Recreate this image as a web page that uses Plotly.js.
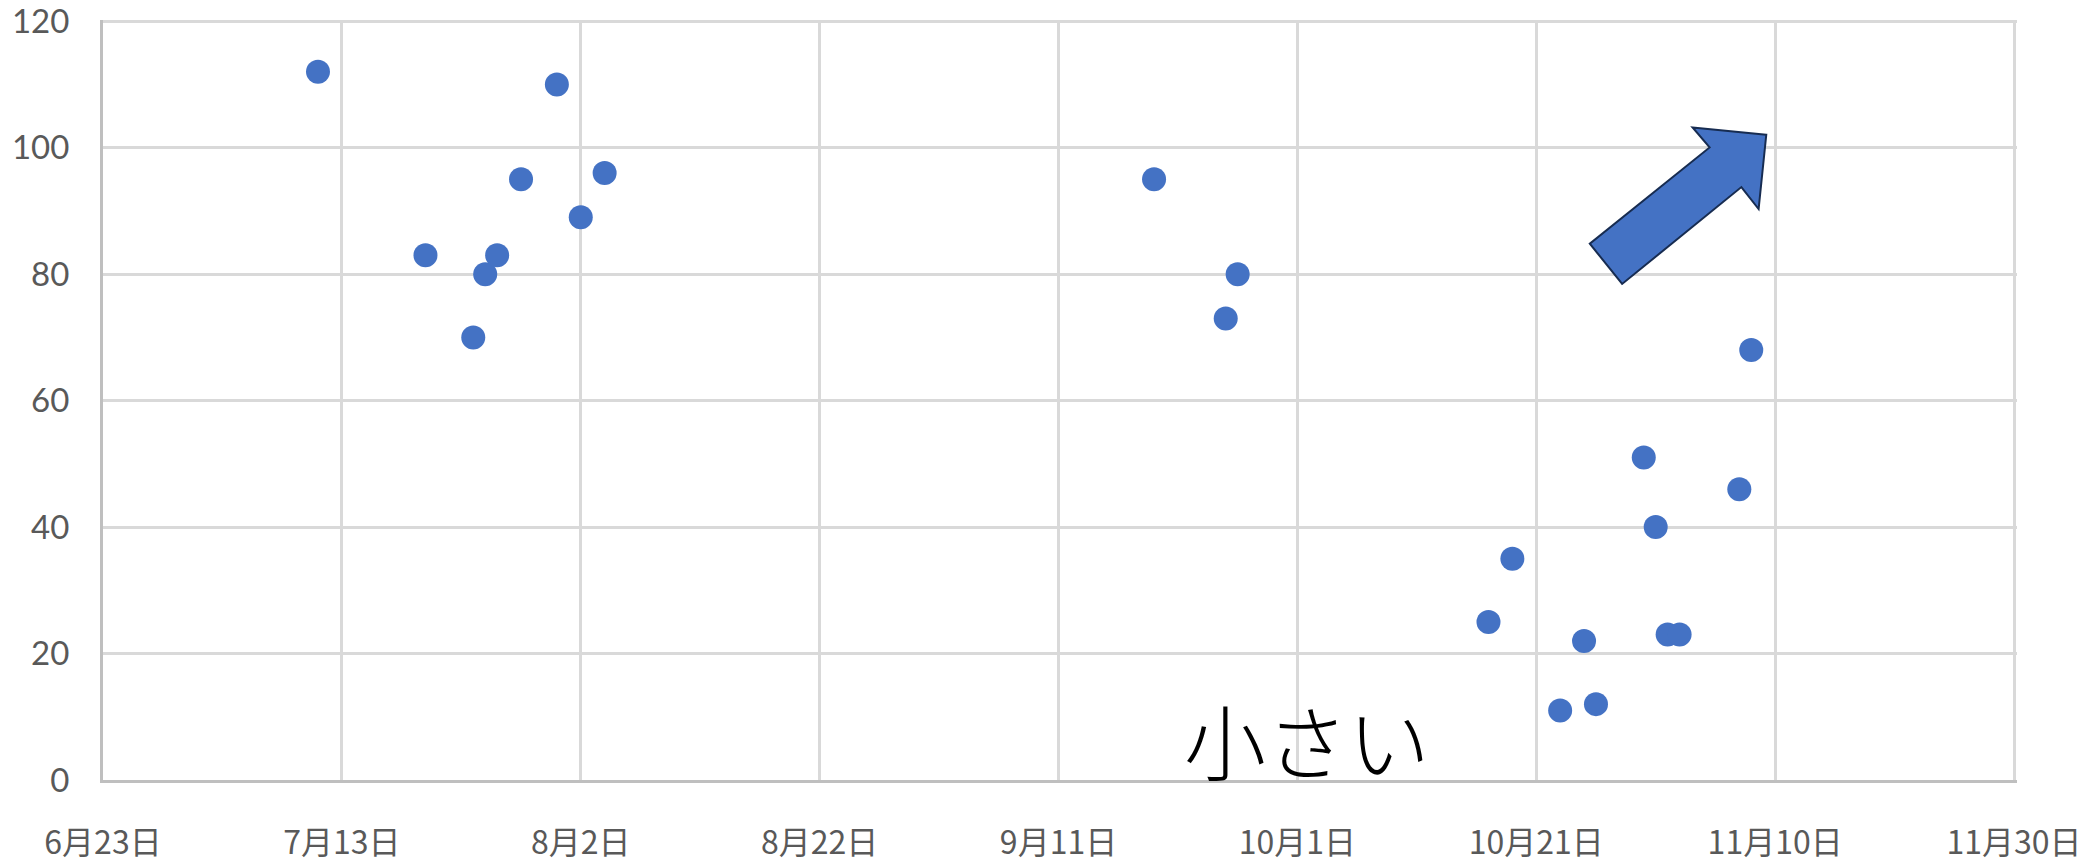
<!DOCTYPE html>
<html>
<head>
<meta charset="utf-8">
<script src="https://cdn.plot.ly/plotly-3.0.1.min.js"></script>
<style>
  html, body { margin: 0; padding: 0; background: #ffffff; }
  #chart { width: 2096px; height: 863px; }
</style>
</head>
<body>
<div id="chart"></div>
<script>
// Observation dates and measured values
const dates = [
  '2020-07-11', '2020-07-20', '2020-07-24', '2020-07-25', '2020-07-26',
  '2020-07-28', '2020-07-31', '2020-08-02', '2020-08-04',
  '2020-09-19', '2020-09-25', '2020-09-26',
  '2020-10-17', '2020-10-19', '2020-10-23', '2020-10-25', '2020-10-26',
  '2020-10-30', '2020-10-31', '2020-11-01', '2020-11-02', '2020-11-07',
  '2020-11-08'
];
const values = [
  112, 83, 70, 80, 83,
  95, 110, 89, 96,
  95, 73, 80,
  25, 35, 11, 22, 12,
  51, 40, 23, 23, 46,
  68
];

// Axis extents and tick spacing
const xStart = '2020-06-23';
const xEnd = '2020-11-30 06:00';
const tickDays = 20;
const yMax = 120.2;
const yStep = 20;

// Callout text
const noteText = '小さい';

const DAY = 86400000;
const gridColor = '#d9d9d9';
const axisColor = '#bfbfbf';
const xLabelFont = { family: '"Noto Sans CJK JP", "Noto Sans", sans-serif', size: 32, color: '#595959' };
const yLabelFont = { family: 'Lato, "Noto Sans", sans-serif', size: 33, color: '#595959' };

const trace = {
  type: 'scatter',
  mode: 'markers',
  x: dates,
  y: values,
  marker: { color: '#4472C4', size: 24, line: { width: 0 } },
  hoverinfo: 'skip'
};

const layout = {
  width: 2096,
  height: 863,
  margin: { l: 103, r: 79, t: 20, b: 83 },
  paper_bgcolor: '#ffffff',
  plot_bgcolor: '#ffffff',
  showlegend: false,
  xaxis: {
    type: 'date',
    range: [xStart, xEnd],
    tick0: xStart,
    dtick: tickDays * DAY,
    tickformat: '%-m月%-d日',
    showgrid: true,
    gridcolor: gridColor,
    gridwidth: 3,
    showline: true,
    linecolor: axisColor,
    linewidth: 3,
    ticks: '',
    ticklen: 0,
    ticklabelstandoff: 33,
    ticklabeloverflow: 'allow',
    tickfont: xLabelFont,
    zeroline: false,
    fixedrange: true
  },
  yaxis: {
    range: [0, yMax],
    tick0: 0,
    dtick: yStep,
    showgrid: true,
    gridcolor: gridColor,
    gridwidth: 3,
    showline: true,
    linecolor: axisColor,
    linewidth: 3,
    zeroline: false,
    ticks: '',
    ticklen: 0,
    ticklabelstandoff: 24,
    ticklabeloverflow: 'allow',
    tickfont: yLabelFont,
    fixedrange: true
  },
  shapes: [
    // block arrow pointing up and to the right
    {
      type: 'path',
      xref: 'paper', yref: 'paper',
      path: 'M 0.8690,0.8490 L 0.8305,0.8587 L 0.8394,0.8323 L 0.7768,0.7057 ' +
            'L 0.7937,0.6527 L 0.8560,0.7802 L 0.8650,0.7513 Z',
      fillcolor: '#4472C4',
      line: { color: '#172c51', width: 2 },
      layer: 'above'
    }
  ],
  annotations: [
    {
      xref: 'paper', yref: 'paper',
      x: 0.6290, y: 0.055,
      xanchor: 'center', yanchor: 'middle',
      text: noteText,
      showarrow: false,
      font: { family: '"Noto Sans CJK JP", sans-serif', size: 82, color: '#000000', weight: 300 }
    }
  ]
};

Plotly.newPlot('chart', [trace], layout, { displayModeBar: false, staticPlot: true });
</script>
</body>
</html>
